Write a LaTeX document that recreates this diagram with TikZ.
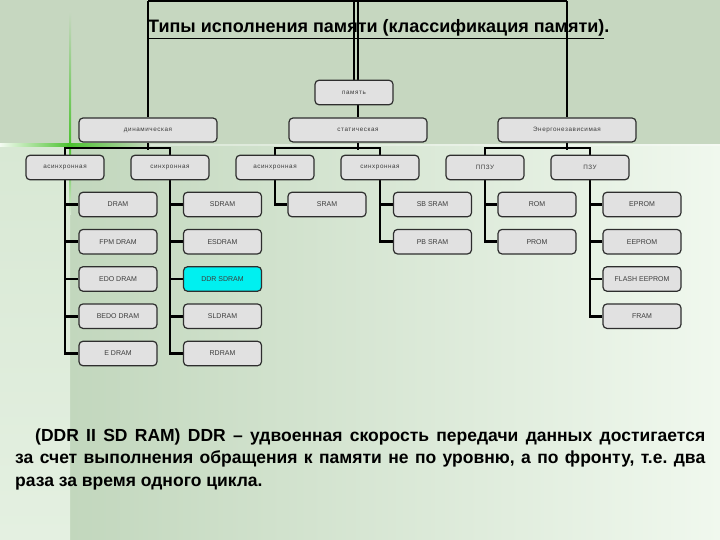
\documentclass[tikz,border=0pt]{standalone}
\usepackage{fontspec}
\setmainfont{Liberation Sans}
\newfontfamily\lblfont[LetterSpace=9]{Liberation Sans}
\usetikzlibrary{backgrounds}
\definecolor{topgreen}{HTML}{C6D7C0}
\definecolor{lowleft}{HTML}{C2D7BD}
\definecolor{lowright}{HTML}{F0F8EE}
\definecolor{stripc}{HTML}{D8E8D4}
\definecolor{stripb}{HTML}{E4F0E1}
\definecolor{flareg}{HTML}{4CC230}
\definecolor{flarew}{HTML}{F4FBF2}
\definecolor{boxfill}{HTML}{E1E1E1}
\definecolor{boxline}{HTML}{2E2E2E}
\definecolor{labelgray}{HTML}{3C3C3C}
\definecolor{ddrcyan}{HTML}{00F0F0}
\pgfdeclarelayer{back}
\pgfdeclarelayer{wires}
\pgfsetlayers{back,wires,main}
\frenchspacing
\begin{document}
\begin{tikzpicture}[x=1pt,y=-1pt,
  box/.style={draw=boxline, fill=boxfill, rounded corners=4pt, line width=1.2pt,
    minimum width=78pt, minimum height=24.5pt, inner sep=0pt,
    font=\lblfont\fontsize{6.3}{7}\selectfont, text=labelgray},
  wide/.style={box, minimum width=138pt, minimum height=24pt},
  leaf/.style={box, font=\fontsize{7}{8}\selectfont},
  conn/.style={line width=2.6pt, black}]
\useasboundingbox (0,0) rectangle (720,540);
% background
\begin{pgfonlayer}{back}
\fill[topgreen] (0,0) rectangle (720,145);
\shade[left color=lowleft, right color=lowright] (70,145) rectangle (720,540);
\shade[top color=stripc, bottom color=stripb] (0,145) rectangle (70,540);
\fill[white, opacity=0.35] (0,144.5) rectangle (720,146);
\shade[left color=flarew, right color=flareg] (0,144) rectangle (70,146.6);
\shade[left color=flareg, right color=topgreen] (70,144) rectangle (150,146.6);
\shade[top color=topgreen, bottom color=flareg] (69,12) rectangle (71.2,145);
\shade[top color=flareg, bottom color=stripc] (69,145) rectangle (71.2,215);
\fill[flareg] (70,145.3) circle (2.6);
\end{pgfonlayer}
% title
\node[anchor=base west, inner sep=0pt, font=\bfseries\fontsize{18}{21}\selectfont] (title) at (148,33)
  {\underline{Типы исполнения памяти (классификация памяти)}.};
% level 0 and 1
\node[box] (mem) at (354,92.5) {память};
\node[wide] (dyn) at (148,130) {динамическая};
\node[wide] (stat) at (358,130) {статическая};
\node[wide] (nv) at (567,130) {Энергонезависимая};
% level 2
\node[box] (da) at (65,167.5) {асинхронная};
\node[box] (ds) at (170,167.5) {синхронная};
\node[box] (sa) at (275,167.5) {асинхронная};
\node[box] (ss) at (380,167.5) {синхронная};
\node[box] (pp) at (485,167.5) {ППЗУ};
\node[box] (pz) at (590,167.5) {ПЗУ};
% leaves
\node[leaf] (l1) at (118,204.5) {DRAM};
\node[leaf] (l2) at (118,241.7) {FPM DRAM};
\node[leaf] (l3) at (118,279) {EDO DRAM};
\node[leaf] (l4) at (118,316.2) {BEDO DRAM};
\node[leaf] (l5) at (118,353.5) {E DRAM};
\node[leaf] (m1) at (222.5,204.5) {SDRAM};
\node[leaf] (m2) at (222.5,241.7) {ESDRAM};
\node[leaf, fill=ddrcyan] (m3) at (222.5,279) {DDR SDRAM};
\node[leaf] (m4) at (222.5,316.2) {SLDRAM};
\node[leaf] (m5) at (222.5,353.5) {RDRAM};
\node[leaf] (s1) at (327,204.5) {SRAM};
\node[leaf] (t1) at (432.5,204.5) {SB SRAM};
\node[leaf] (t2) at (432.5,241.7) {PB SRAM};
\node[leaf] (r1) at (537,204.5) {ROM};
\node[leaf] (r2) at (537,241.7) {PROM};
\node[leaf] (e1) at (642,204.5) {EPROM};
\node[leaf] (e2) at (642,241.7) {EEPROM};
\node[leaf] (e3) at (642,279) {FLASH EEPROM};
\node[leaf] (e4) at (642,316.2) {FRAM};
% connectors
\begin{pgfonlayer}{wires}
\coordinate (topL) at (148,1);
\coordinate (topR) at (567,1);
\draw[conn] (mem.north) -- (mem.north |- topL);
\draw[conn] (topL) -- (topR);
\draw[conn] (topL) -- (dyn.north);
\draw[conn] (topR) -- (nv.north);
\draw[conn] (stat.north |- topL) -- (stat.north);
\foreach \p/\a/\b in {dyn/da/ds, stat/sa/ss, nv/pp/pz}{
  \draw[conn] (\p.south) -- ++(0,7);
  \draw[conn] (\a.north) -- ++(0,-6.5) -| (\b.north);
}
\draw[conn] (da.south) |- (l5.west);
\foreach \n in {l1,l2,l3,l4}{\draw[conn] (da.south |- \n.west) -- (\n.west);}
\draw[conn] (ds.south) |- (m5.west);
\foreach \n in {m1,m2,m3,m4}{\draw[conn] (ds.south |- \n.west) -- (\n.west);}
\draw[conn] (sa.south) |- (s1.west);
\draw[conn] (ss.south) |- (t2.west);
\draw[conn] (ss.south |- t1.west) -- (t1.west);
\draw[conn] (pp.south) |- (r2.west);
\draw[conn] (pp.south |- r1.west) -- (r1.west);
\draw[conn] (pz.south) |- (e4.west);
\foreach \n in {e1,e2,e3}{\draw[conn] (pz.south |- \n.west) -- (\n.west);}
\end{pgfonlayer}
% bottom text
\begin{scope}[every node/.style={anchor=base west, inner sep=0pt, font=\bfseries\fontsize{17.5}{20}\selectfont}]
\node (t1l) at (35,441) {\makebox[670pt][s]{(DDR II SD RAM) DDR – удвоенная скорость передачи данных достигается}};
\node (t2l) at (15,463.5) {\makebox[690pt][s]{за счет выполнения обращения к памяти не по уровню, а по фронту, т.е. два}};
\node (t3l) at (15,486) {раза за время одного цикла.};
\end{scope}
\end{tikzpicture}
\end{document}
